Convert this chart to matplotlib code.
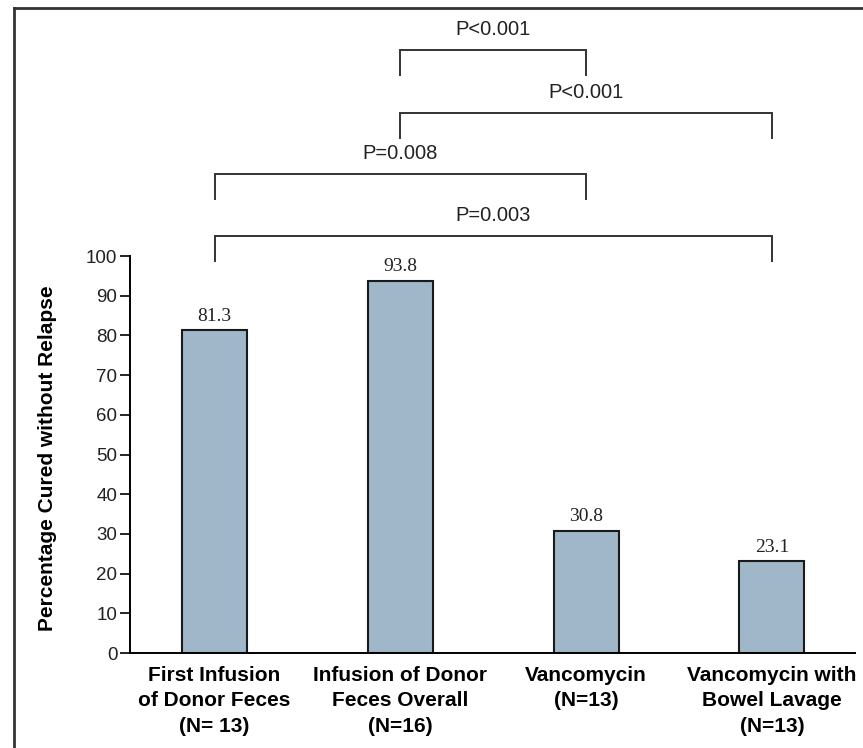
import matplotlib.pyplot as plt
from matplotlib.lines import Line2D

# cure rates per treatment arm
groups = ["First Infusion\nof Donor Feces\n(N= 13)",
          "Infusion of Donor\nFeces Overall\n(N=16)",
          "Vancomycin\n(N=13)",
          "Vancomycin with\nBowel Lavage\n(N=13)"]
cured_pct = [81.3, 93.8, 30.8, 23.1]
value_labels = ["81.3", "93.8", "30.8", "23.1"]

# pairwise comparisons: (left group, right group, p-value text)
comparisons = [(1, 2, "P<0.001"),
               (1, 3, "P<0.001"),
               (0, 2, "P=0.008"),
               (0, 3, "P=0.003")]
bracket_levels = [151.9, 136.0, 120.7, 105.0]

bar_color = "#9fb7c8"
sans = "Liberation Sans"

fig = plt.figure(figsize=(8.63, 7.48), dpi=100)
ax = fig.add_axes([0.1506, 0.127, 0.8401, 0.8623])

x = range(len(groups))
ax.bar(x, cured_pct, width=0.35, color=bar_color, edgecolor="#1a1a1a", linewidth=1.5)

for xi, v, lab in zip(x, cured_pct, value_labels):
    ax.annotate(lab, (xi, v), xytext=(0, 4), textcoords="offset points",
                ha="center", va="bottom", fontsize=14, family="Liberation Serif",
                color="#222222")

# significance brackets
leg = 6.3
for (a, b, ptxt), lvl in zip(comparisons, bracket_levels):
    ax.plot([a, a, b, b], [lvl - leg, lvl, lvl, lvl - leg], color="#333333",
            linewidth=1.4, solid_joinstyle="miter", clip_on=False)
    ax.text((a + b) / 2, lvl + 5.2, ptxt, ha="center", va="center",
            fontsize=14.5, family=sans, color="#222222")

ax.set_xlim(-0.455, 3.447)
ax.set_ylim(0, 162.5)
ax.set_yticks(range(0, 101, 10))
ax.set_xticks(list(x))
ax.set_xticklabels(groups, fontsize=15, family=sans, fontweight="bold",
                   linespacing=1.45)
ax.tick_params(axis="x", length=0, pad=9)
ax.tick_params(axis="y", length=7, width=1.2, pad=2, labelsize=13.5)
for t in ax.get_yticklabels():
    t.set_family(sans)
    t.set_color("#222222")

ax.spines["left"].set_bounds(0, 100)
ax.spines["left"].set_linewidth(1.4)
ax.spines["bottom"].set_linewidth(1.4)
ax.spines["top"].set_visible(False)
ax.spines["right"].set_visible(False)

ax.set_ylabel("Percentage Cured without Relapse", fontsize=15,
              fontweight="bold", family=sans)
ax.yaxis.set_label_coords(-0.1, 100 / 162.5 * 0.5 - 0.005)

# panel frame along left and top edges
fig.add_artist(Line2D([0.0157, 0.0157], [0.0, 0.9893], color="#333333", linewidth=2))
fig.add_artist(Line2D([0.0157, 1.0], [0.9893, 0.9893], color="#333333", linewidth=2))

fig.savefig("out.png", dpi=100)
